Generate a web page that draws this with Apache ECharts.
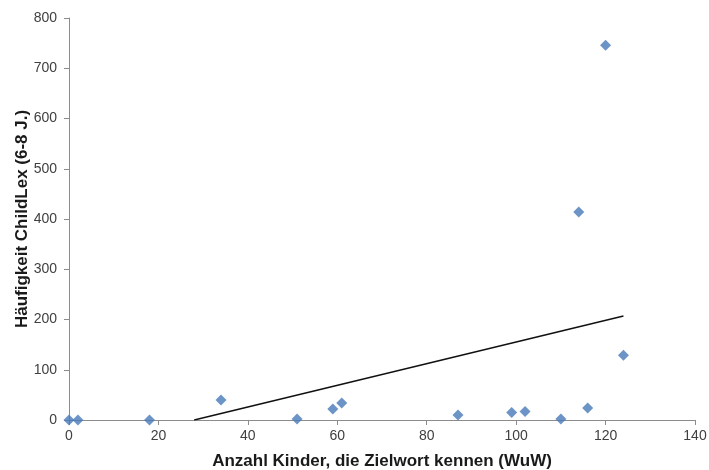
<!DOCTYPE html>
<html>
<head>
<meta charset="utf-8">
<script src="https://cdn.jsdelivr.net/npm/echarts@6/dist/echarts.min.js"></script>
<style>
  html, body { margin: 0; padding: 0; background: #fff; }
  #chart { width: 709px; height: 470px; }
</style>
</head>
<body>
<div id="chart"></div>
<script>
// Anzahl Kinder (WuW) / Häufigkeit ChildLex
const kinder = [0, 2, 18, 34, 51, 59, 61, 87, 99, 102, 110, 114, 116, 120, 124]
const haeufigkeit = [0, 0, 0, 40, 2, 22, 34, 10, 15, 17, 2, 414, 24, 746, 129]
const trendX = [28, 124]
const trendY = [0, 207]
const xTicks = [0, 140, 20]
const yTicks = [0, 800, 100]

const chart = echarts.init(document.getElementById('chart'))

const axisCommon = {
  axisLine: { show: true, lineStyle: { color: '#8c8c8c', width: 1 } },
  axisTick: { show: true, length: 5, lineStyle: { color: '#8c8c8c' } },
  splitLine: { show: false },
  axisLabel: { color: '#404040', fontSize: 14, fontFamily: 'Liberation Sans, Arial' },
  nameTextStyle: { color: '#1a1a1a', fontSize: 17, fontWeight: 'bold', fontFamily: 'Liberation Sans, Arial' }
}

chart.setOption({
  animation: false,
  grid: { left: 69, right: 14, top: 18, bottom: 50, containLabel: false, outerBoundsMode: 'none' },
  xAxis: {
    ...axisCommon,
    type: 'value',
    min: xTicks[0],
    max: xTicks[1],
    interval: xTicks[2],
    name: 'Anzahl Kinder, die Zielwort kennen (WuW)',
    nameLocation: 'middle',
    nameGap: 33,
    axisLabel: { ...axisCommon.axisLabel, margin: 9 }
  },
  yAxis: {
    ...axisCommon,
    type: 'value',
    min: yTicks[0],
    max: yTicks[1],
    interval: yTicks[2],
    name: 'Häufigkeit ChildLex (6-8 J.)',
    nameLocation: 'middle',
    nameGap: 38,
    nameMoveOverlap: false,
    axisLabel: { ...axisCommon.axisLabel, margin: 12 }
  },
  series: [
    {
      type: 'line',
      data: trendX.map((x, i) => [x, trendY[i]]),
      symbol: 'none',
      lineStyle: { color: '#111', width: 1.5 },
      z: 1
    },
    {
      type: 'scatter',
      data: kinder.map((x, i) => [x, haeufigkeit[i]]),
      symbol: 'diamond',
      symbolSize: 11,
      itemStyle: { color: '#4779b8' },
      z: 2
    }
  ]
})
</script>
</body>
</html>
